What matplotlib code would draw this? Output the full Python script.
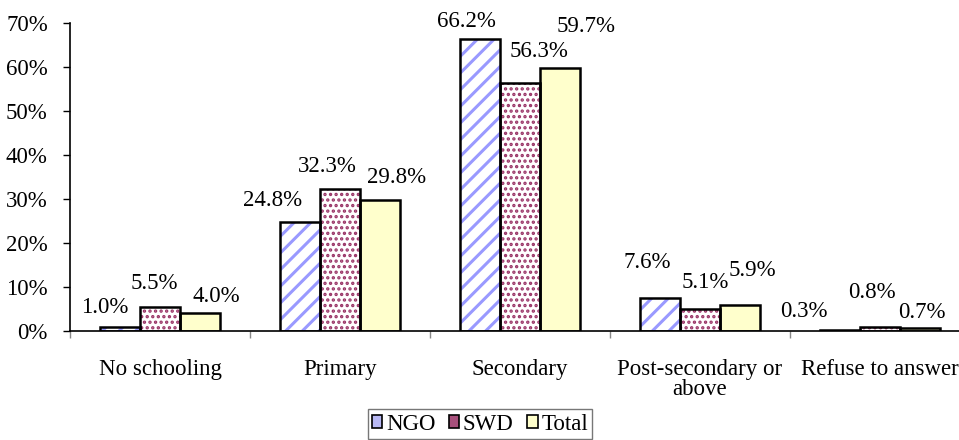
import matplotlib
matplotlib.use('Agg')
import matplotlib.pyplot as plt
from matplotlib.patches import Patch
import numpy as np

categories = ['No schooling', 'Primary', 'Secondary', 'Post-secondary or\nabove', 'Refuse to answer']
series = ['NGO', 'SWD', 'Total']
ngo = [1.0, 24.8, 66.2, 7.6, 0.3]
swd = [5.5, 32.3, 56.3, 5.1, 0.8]
total = [4.0, 29.8, 59.7, 5.9, 0.7]
yticks = [0, 10, 20, 30, 40, 50, 60, 70]

# label offsets (points) from the top-centre of each bar, hand-placed like the original
label_dx = [[-11, -4, 12], [-20, -9, 12], [-10, 14, 19], [-9, 4, 9], [-26, -6, 1]]
label_dy = [[10, 13, 8], [11, 12, 12], [9, 19, 26], [21, 15, 21], [9, 21, 7]]

plt.rcParams['font.family'] = 'Liberation Serif'
fs = 16.5

fig = plt.figure(figsize=(9.59, 4.40), dpi=100)
ax = fig.add_axes([70/959, 109/440, 900/959, 308.3/440])

x = np.arange(len(categories))
w = 40/180
styles = [
    dict(face='white', hatch='//', hcol='#9999ff', hlw=2.2),
    dict(face='white', hatch='...', hcol='#993366', hlw=1.6),
    dict(face='#ffffcc', hatch=None, hcol='black', hlw=1.0),
]
data = [ngo, swd, total]

for k, (vals, st) in enumerate(zip(data, styles)):
    pos = x + (k - 1) * w
    with plt.rc_context({'hatch.linewidth': st['hlw']}):
        bars = ax.bar(pos, vals, w, color=st['face'], edgecolor=st['hcol'],
                      hatch=st['hatch'], linewidth=0, zorder=2)
        for b in bars:
            if hasattr(b, 'set_hatch_linewidth'):
                b.set_hatch_linewidth(st['hlw'])
    ax.bar(pos, vals, w, fill=False, edgecolor='black', linewidth=1.8, zorder=3)
    for i, v in enumerate(vals):
        ax.annotate(f'{v:.1f}%', (pos[i], v), xytext=(label_dx[i][k], label_dy[i][k]),
                    textcoords='offset points', ha='center', va='baseline', fontsize=fs)

ax.set_xlim(-0.5, len(categories) - 0.5)
ax.set_ylim(0, 70)
ax.set_yticks(yticks)
ax.set_yticklabels([f'{t}%' for t in yticks], fontsize=fs)
ax.set_xticks(x)
ax.set_xticklabels(categories, fontsize=fs, linespacing=0.95)
ax.set_xticks(np.arange(len(categories) + 1) - 0.5, minor=True)
ax.tick_params(axis='x', which='major', length=0, pad=20)
ax.tick_params(axis='x', which='minor', length=5, width=1, color='#888888', direction='out')
ax.tick_params(axis='y', length=5, width=1, pad=11, direction='out')

for s in ['top', 'right']:
    ax.spines[s].set_visible(False)
ax.spines['left'].set_linewidth(1.2)
ax.spines['bottom'].set_linewidth(1.2)

handles = [Patch(facecolor='#b8b8f4', edgecolor='black', linewidth=1.2),
           Patch(facecolor='#a8507c', edgecolor='black', linewidth=1.2),
           Patch(facecolor='#ffffcc', edgecolor='black', linewidth=1.2)]
leg = fig.legend(handles, series, loc='upper center', bbox_to_anchor=(480/959, 1 - 409/440),
                 ncol=3, fontsize=fs, frameon=True, fancybox=False, edgecolor='#555555',
                 handlelength=0.45, handleheight=0.45, handletextpad=0.15, columnspacing=0.6,
                 borderpad=0.2, borderaxespad=0)
leg.get_frame().set_linewidth(1.0)

fig.savefig('out.png', dpi=100)
